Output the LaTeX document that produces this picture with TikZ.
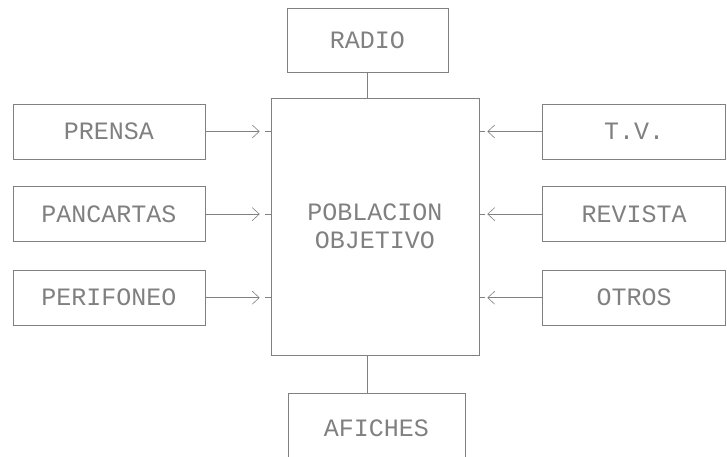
\documentclass[tikz,border=0pt]{standalone}
\usepackage{fontspec}
\newfontfamily\typefont{Liberation Mono}
\usetikzlibrary{arrows.meta,positioning}
\definecolor{dotgray}{gray}{0.5}

\begin{document}
\begin{tikzpicture}[
				x=1pt,y=-1pt,
				every node/.style={font=\typefont\fontsize{25}{28}\selectfont,text=dotgray},
				box/.style={
					draw=dotgray,
					align=center,
					inner sep=0pt,
					minimum width=192pt,
					minimum height=55pt,
					line width=0.6pt
				},
				arrow/.style={
					-{Straight Barb[length=7pt,width=13pt,line width=0.6pt]},
					draw=dotgray,
					line width=0.6pt
				},
				tick/.style={
					draw=dotgray,
					line width=0.6pt
				}
				]
				\useasboundingbox (0,0) rectangle (727,457);
				
				\node[box,minimum width=208pt,minimum height=257pt] at (375,226.5) (pob)
				{POBLACION\\OBJETIVO};
				\node[box,minimum width=161pt,minimum height=64pt,above=25pt of pob,xshift=-7.5pt] (radio)
				{RADIO};
				\node[box,minimum width=177pt,minimum height=70pt,below=38pt of pob,xshift=1.5pt] (afiches)
				{AFICHES};
				
				\node[box] at (109,131.5) (prensa) {PRENSA};
				\node[box,below=27pt of prensa] (pancartas) {PANCARTAS};
				\node[box,below=28pt of pancartas] (perifoneo) {PERIFONEO};
				
				\node[box,minimum width=183pt] at (634,131.5) (tv) {T.V.};
				\node[box,minimum width=183pt,below=27pt of tv] (revista) {REVISTA};
				\node[box,minimum width=183pt,below=28pt of revista] (otros) {OTROS};
				
				\draw[tick] (radio.south) -- (radio.south |- pob.north);
				\draw[tick] (radio.south |- pob.south) -- (radio.south |- afiches.north);
				
				\draw[arrow] (prensa.east) -- ([xshift=-11pt]prensa.east -| pob.west);
				\draw[tick] ([xshift=-6pt]prensa.east -| pob.west) -- (prensa.east -| pob.west);
				\draw[arrow] (pancartas.east) -- ([xshift=-11pt]pancartas.east -| pob.west);
				\draw[tick] ([xshift=-6pt]pancartas.east -| pob.west) -- (pancartas.east -| pob.west);
				\draw[arrow] (perifoneo.east) -- ([xshift=-11pt]perifoneo.east -| pob.west);
				\draw[tick] ([xshift=-6pt]perifoneo.east -| pob.west) -- (perifoneo.east -| pob.west);
				
				\draw[arrow] (tv.west) -- ([xshift=8pt]tv.west -| pob.east);
				\draw[tick] (tv.west -| pob.east) -- ([xshift=6pt]tv.west -| pob.east);
				\draw[arrow] (revista.west) -- ([xshift=8pt]revista.west -| pob.east);
				\draw[tick] (revista.west -| pob.east) -- ([xshift=6pt]revista.west -| pob.east);
				\draw[arrow] (otros.west) -- ([xshift=8pt]otros.west -| pob.east);
				\draw[tick] (otros.west -| pob.east) -- ([xshift=6pt]otros.west -| pob.east);
			\end{tikzpicture}
\end{document}
